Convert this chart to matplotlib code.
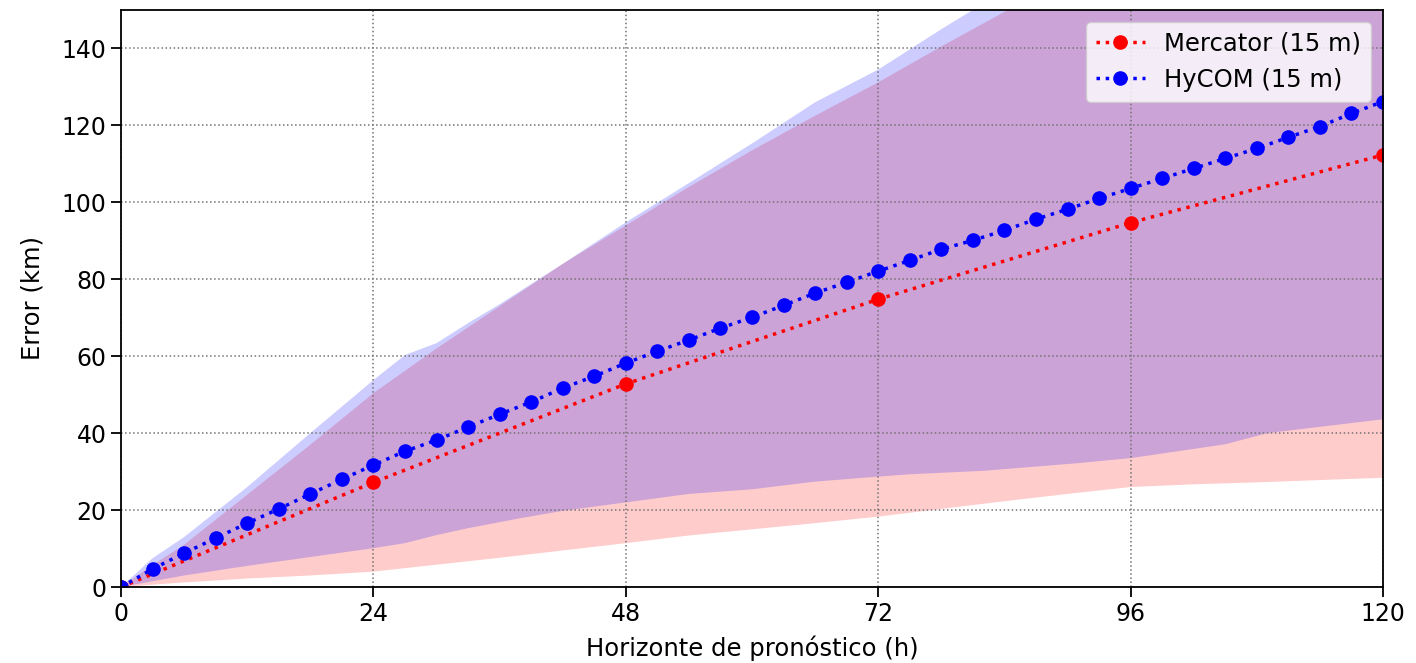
import numpy as np
import matplotlib
matplotlib.use("Agg")
import matplotlib.pyplot as plt

# errores medios (km) por horizonte de pronostico (h)
horas_merc = [0, 24, 48, 72, 96, 120]
err_merc = [0, 27.2, 52.8, 74.8, 94.7, 112.3]

horas_hycom = list(range(0, 121, 3))
err_hycom = [0, 4.7, 8.8, 12.7, 16.6, 20.3, 24.2, 28.0, 31.7, 35.3,
             38.2, 41.6, 44.9, 48.1, 51.7, 54.8, 58.2, 61.3, 64.2, 67.3,
             70.1, 73.2, 76.4, 79.2, 82.1, 84.9, 87.8, 90.1, 92.7, 95.6,
             98.2, 101.0, 103.6, 106.2, 108.8, 111.4, 114.0, 116.9, 119.7, 123.1,
             126.2]

# bandas (limites inferior / superior)
x_merc_sup = [0, 3, 6, 12, 18, 24, 30, 36, 42, 48, 54, 60, 66, 72, 78, 84, 90, 96, 108, 120]
merc_sup = [0, 5.7, 11, 24, 37, 50.4, 62, 73, 84, 94, 104, 113.5, 122.5, 131.2, 140.5, 149.5, 158, 166, 181, 195]
x_merc_inf = [0, 6, 12, 18, 24, 30, 36, 42, 48, 54, 60, 66, 72, 78, 84, 90, 96, 102, 108, 114, 120]
merc_inf = [0, 1.2, 2.2, 3.0, 4.0, 5.8, 7.6, 9.5, 11.4, 13.4, 15.0, 16.6, 18.3, 20.3, 22.3, 24.2, 26.0, 26.7, 27.2, 27.8, 28.4]

x_hyc_sup = [0, 3, 6, 12, 18, 24, 27, 30, 33, 36, 42, 48, 54, 60, 66, 72, 78, 84, 90, 96, 108, 120]
hyc_sup = [0, 7.5, 13, 26, 40, 53.8, 60.3, 63.4, 68.6, 73.5, 84, 94.8, 105, 115.3, 126, 134.5, 145, 155, 163, 171, 188, 205]
x_hyc_inf = [0, 3, 6, 12, 18, 24, 27, 30, 33, 38, 42, 48, 54, 60, 66, 72, 75, 82, 91, 96, 105, 109, 120]
hyc_inf = [0, 1.5, 3.0, 5.5, 7.8, 10.1, 11.4, 13.5, 15.3, 17.9, 19.8, 22.0, 24.2, 25.4, 27.4, 28.7, 29.3, 30.2, 32.2, 33.5, 37.1, 40.0, 43.6]

fig = plt.figure(figsize=(14.16, 6.63), dpi=100)
ax = fig.add_axes([0.0855, 0.1146, 0.8912, 0.8704])

ax.fill(np.r_[x_merc_sup, x_merc_inf[::-1]], np.r_[merc_sup, merc_inf[::-1]],
        color='red', alpha=0.2, lw=0)
ax.fill(np.r_[x_hyc_sup, x_hyc_inf[::-1]], np.r_[hyc_sup, hyc_inf[::-1]],
        color='blue', alpha=0.2, lw=0)

ax.plot(horas_merc, err_merc, ':', color='red', lw=2.5, marker='o', ms=9.5,
        label='Mercator (15 m)')
ax.plot(horas_hycom, err_hycom, ':', color='blue', lw=2.5, marker='o', ms=9.5,
        label='HyCOM (15 m)')

ax.set_xlim(0, 120)
ax.set_ylim(0, 150)
ax.set_xticks([0, 24, 48, 72, 96, 120])
ax.set_yticks(range(0, 141, 20))
ax.tick_params(labelsize=17, length=7, width=1.3)
ax.grid(True, ls=':', color='0.45', lw=1.1)
for s in ax.spines.values():
    s.set_linewidth(1.3)
ax.set_xlabel('Horizonte de pronóstico (h)', fontsize=17.5, labelpad=7)
ax.set_ylabel('Error (km)', fontsize=17.5, labelpad=12)
ax.legend(loc='upper right', fontsize=17.5)

fig.savefig('out.png', dpi=100)
